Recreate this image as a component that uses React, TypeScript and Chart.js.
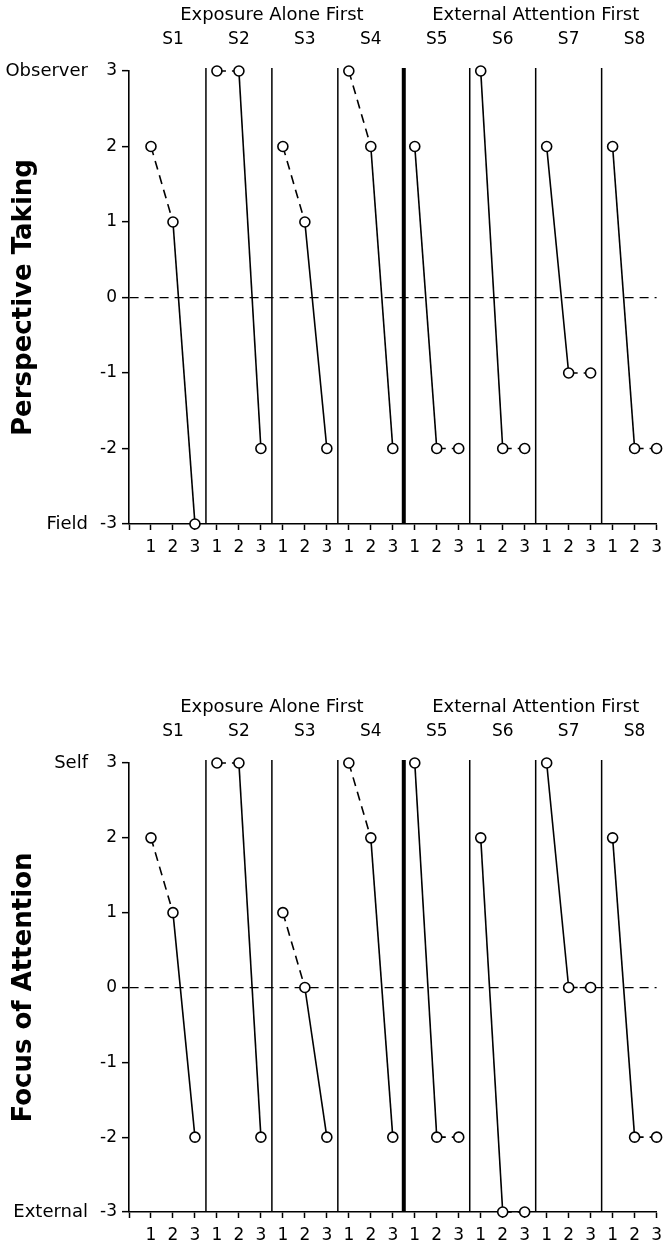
import React, { useEffect, useRef } from "react";
import { Chart, registerables } from "chart.js";

Chart.register(...registerables);

// ---------- data ----------
const groups = ["Exposure Alone First", "External Attention First"];
const subjects = ["S1", "S2", "S3", "S4", "S5", "S6", "S7", "S8"];
const subjectGroup = [0, 0, 0, 0, 1, 1, 1, 1];
const sessions = ["1", "2", "3"];
const yTickValues = [-3, -2, -1, 0, 1, 2, 3];

const perspectiveTaking = [
  [2, 1, -3],
  [3, 3, -2],
  [2, 1, -2],
  [3, 2, -2],
  [2, -2, -2],
  [3, -2, -2],
  [2, -1, -1],
  [2, -2, -2],
];
const perspectiveAnchors = ["Field", "Observer"];

const focusOfAttention = [
  [2, 1, -2],
  [3, 3, -2],
  [1, 0, -2],
  [3, 2, -2],
  [3, -2, -2],
  [2, -3, -3],
  [3, 0, 0],
  [2, -2, -2],
];
const attentionAnchors = ["External", "Self"];

// ---------- styling ----------
const FONT = "'DejaVu Sans', sans-serif";
const DASH = [9, 6];
const nS = sessions.length;
const yMin = yTickValues[0];
const yMax = yTickValues[yTickValues.length - 1];

function buildConfig(values: number[][], title: string, anchors: string[], topPad: number) {
  const datasets = values.map((vals, s) => ({
    label: subjects[s],
    data: vals.map((v, k) => ({ x: s * nS + k, y: v })),
    showLine: true,
    borderColor: "#000",
    borderWidth: 1.6,
    pointRadius: 5,
    pointHoverRadius: 5,
    pointBorderWidth: 1.6,
    pointBackgroundColor: "#fff",
    pointBorderColor: "#000",
    clip: false as any,
    segment: {
      // exposure-alone phase drawn dashed
      borderDash: (ctx: any) =>
        (subjectGroup[s] === 0) === (ctx.p0DataIndex === 0) ? DASH : undefined,
    },
  }));

  const textPlugin = {
    id: "panelText",
    beforeDatasetsDraw(chart: any) {
      const { ctx, chartArea, scales } = chart;
      const x = scales.x;
      ctx.save();
      ctx.strokeStyle = "#000";
      for (let i = 1; i < subjects.length; i++) {
        const px = x.getPixelForValue(i * nS - 0.5);
        ctx.lineWidth = subjectGroup[i] !== subjectGroup[i - 1] ? 4 : 1.5;
        ctx.beginPath();
        ctx.moveTo(px, chartArea.top - 3);
        ctx.lineTo(px, chartArea.bottom);
        ctx.stroke();
      }
      ctx.restore();
    },
    afterDraw(chart: any) {
      const { ctx, chartArea, scales } = chart;
      const x = scales.x;
      const y = scales.y;
      ctx.save();
      ctx.fillStyle = "#000";
      ctx.textAlign = "center";
      ctx.textBaseline = "middle";
      ctx.font = `17px ${FONT}`;
      subjects.forEach((s, i) => {
        ctx.fillText(s, x.getPixelForValue(i * nS + (nS - 1) / 2), chartArea.top - 31);
      });
      ctx.font = `18px ${FONT}`;
      groups.forEach((g, gi) => {
        const idx = subjectGroup.map((gg, i) => (gg === gi ? i : -1)).filter((i) => i >= 0);
        const first = idx[0];
        const last = idx[idx.length - 1];
        const c = (x.getPixelForValue(first * nS) + x.getPixelForValue(last * nS + nS - 1)) / 2;
        ctx.fillText(g, c, chartArea.top - 56);
      });
      ctx.textAlign = "right";
      ctx.fillText(anchors[1], chartArea.left - 41, y.getPixelForValue(yMax));
      ctx.fillText(anchors[0], chartArea.left - 41, y.getPixelForValue(yMin));
      ctx.restore();
    },
  };

  return {
    type: "scatter" as const,
    data: { datasets },
    plugins: [textPlugin],
    options: {
      animation: false as const,
      responsive: false,
      devicePixelRatio: 1,
      layout: { padding: { top: topPad, right: 10, left: 0, bottom: 0 } },
      plugins: { legend: { display: false }, tooltip: { enabled: false }, title: { display: false } },
      events: [],
      scales: {
        x: {
          type: "linear" as const,
          position: "bottom" as const,
          min: -1,
          max: subjects.length * nS - 1,
          afterFit: (s: any) => {
            s.height = 36;
          },
          ticks: {
            stepSize: 1,
            autoSkip: false,
            maxTicksLimit: 200,
            maxRotation: 0,
            minRotation: 0,
            color: "#000",
            padding: 7,
            font: { family: FONT, size: 17 },
            callback: (v: any) => (v >= 0 && Number.isInteger(v) ? sessions[v % nS] : ""),
          },
          grid: {
            drawOnChartArea: false,
            drawTicks: true,
            tickLength: 6,
            tickColor: "#000",
            tickWidth: 1.5,
            color: "#000",
          },
          border: { color: "#000", width: 1.6 },
        },
        y: {
          type: "linear" as const,
          min: yMin,
          max: yMax,
          afterFit: (s: any) => {
            s.width = 129;
          },
          afterBuildTicks: (s: any) => {
            s.ticks = yTickValues.map((v) => ({ value: v }));
          },
          ticks: {
            color: "#000",
            padding: 5,
            font: { family: FONT, size: 17 },
            callback: (v: any) => String(v),
          },
          grid: {
            color: (ctx: any) => (ctx.tick && ctx.tick.value === 0 ? "#000" : "rgba(0,0,0,0)"),
            lineWidth: 1.3,
            tickColor: "#000",
            tickWidth: 1.5,
            tickLength: 7,
          },
          border: {
            color: "#000",
            width: 1.6,
            dash: (ctx: any) => (ctx.tick && ctx.tick.value === 0 ? DASH : []),
          },
          title: {
            display: true,
            text: title,
            color: "#000",
            font: { family: FONT, size: 26, weight: "bold" as const },
            padding: { top: 9, bottom: 0 },
          },
        },
      },
    },
  };
}

function Panel(props: { values: number[][]; title: string; anchors: string[]; top: number; height: number; topPad: number }) {
  const ref = useRef<HTMLCanvasElement | null>(null);
  useEffect(() => {
    if (!ref.current) return;
    const chart = new Chart(ref.current, buildConfig(props.values, props.title, props.anchors, props.topPad) as any);
    return () => chart.destroy();
  }, []);
  return (
    <div style={{ position: "absolute", left: 0, top: props.top, width: 669, height: props.height }}>
      <canvas ref={ref} width={669} height={props.height} style={{ width: 669, height: props.height, display: "block" }} />
    </div>
  );
}

export default function App() {
  return (
    <div style={{ position: "absolute", left: 0, top: 0, width: 669, height: 1248, background: "#fff" }}>
      <Panel values={perspectiveTaking} title="Perspective Taking" anchors={perspectiveAnchors} top={0} height={560} topPad={71} />
      <Panel values={focusOfAttention} title="Focus of Attention" anchors={attentionAnchors} top={600} height={648} topPad={163} />
    </div>
  );
}
